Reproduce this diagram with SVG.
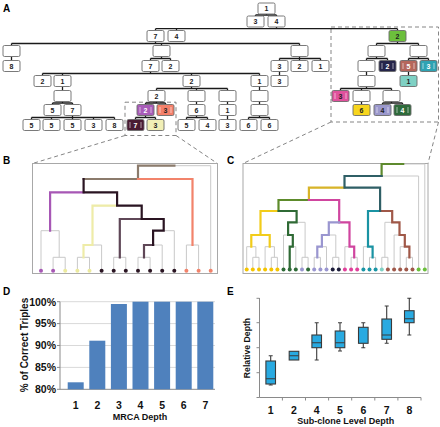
<svg xmlns="http://www.w3.org/2000/svg" width="440" height="427" viewBox="0 0 440 427">
<style>
.bx{fill:#fff;stroke:#6b6b6b;stroke-width:0.9}
.t{font-family:"Liberation Sans",Arial,sans-serif;font-weight:bold;font-size:7px;text-anchor:middle;fill:#222}
.tw{fill:#fff}
.bar{stroke:#fff;stroke-opacity:0.7;stroke-width:0.8;fill:none}
.cn{stroke:#1a1a1a;stroke-width:1.3;fill:none}
.dash{stroke:#858585;stroke-width:1;stroke-dasharray:4 3;fill:none}
.frame{stroke:#a8a8a8;stroke-width:1;fill:none}
.g{stroke:#c9c9c9;stroke-width:1;fill:none}
.hl{stroke-width:2.2;fill:none;stroke-linecap:square;stroke-linejoin:miter}
.lbl{font-family:"Liberation Sans",Arial,sans-serif;font-weight:bold;font-size:10px;fill:#000}
.tick{font-family:"Liberation Sans",Arial,sans-serif;font-weight:bold;font-size:10.5px;fill:#111}
.ttl{font-family:"Liberation Sans",Arial,sans-serif;font-weight:bold;font-size:9px;fill:#111;text-anchor:middle}
.ax{stroke:#8a8a8a;stroke-width:1;fill:none}
.grid{stroke:#d9d9d9;stroke-width:1;fill:none}
.dbar{fill:#4f81bd}
.bp{fill:#29aae1;stroke:#3a3a3a;stroke-width:1.1}
.wk{stroke:#3a3a3a;stroke-width:1.1;fill:none}
</style>

<!-- panel letters -->
<text class="lbl" x="3" y="12">A</text>
<text class="lbl" x="3" y="164">B</text>
<text class="lbl" x="227" y="164">C</text>
<text class="lbl" x="3" y="295">D</text>
<text class="lbl" x="227" y="295">E</text>

<!-- dashed zoom guides -->
<g id="guides">
<rect class="dash" x="125" y="102.2" width="51" height="33.3"/>
<rect class="dash" x="331" y="27" width="107.5" height="95"/>
<path class="dash" d="M125 135.5L32.5 163.5M176 135.5L217.5 163.5M331 122L243 163.5M438.5 122L428 163.5"/>
</g>

<!-- tree A connectors -->
<g id="connectors">
<path class="cn" d="M266.5 14V15M255.5 15H276.5M255.5 15V16M276.5 15V16
M276.5 27V28.7M155.5 28.7H397.5M155.5 28.7V30.5M176.5 28.7V30.5M397.5 28.7V30.5
M155.5 41.5V43.5M11.5 43.5H299.5M11.5 43.5V45.5M161.5 43.5V45.5M299.5 43.5V45.5
M397.5 41.5V43.5M376.5 43.5H418.5M376.5 43.5V45.5M418.5 43.5V45.5
M11.5 56.5V60.5
M161.5 56.5V58.5M150.5 58.5H170.5M150.5 58.5V60.5M170.5 58.5V60.5
M299.5 56.5V58.5M279.5 58.5H320.5M279.5 58.5V60.5M299.5 58.5V60.5M320.5 58.5V60.5
M376.5 56.5V58.5M366.5 58.5H387.5M366.5 58.5V60.5M387.5 58.5V60.5
M418.5 56.5V58.5M408.5 58.5H428.5M408.5 58.5V60.5M428.5 58.5V60.5
M150.5 71.5V73.5M42.5 73.5H259.5M42.5 73.5V75.5M62.5 73.5V75.5M191.5 73.5V75.5M259.5 73.5V75.5
M279.5 71.5V75.5M366.5 71.5V75.5M408.5 71.5V75.5
M62.5 86.5V90.5
M191.5 86.5V88.5M156.5 88.5H227.5M156.5 88.5V90.5M196.5 88.5V90.5M227.5 88.5V90.5
M259.5 86.5V90.5
M366.5 86.5V88.5M340.5 88.5H391.5M340.5 88.5V90.5M361.5 88.5V90.5M391.5 88.5V90.5
M62.5 101.5V103M52.5 103H72.5M52.5 103V104.5M72.5 103V104.5
M156.5 101.5V103M145.5 103H165.5M145.5 103V104.5M165.5 103V104.5
M196.5 101.5V104.5M227.5 101.5V104.5M259.5 101.5V104.5M361.5 101.5V104.5
M391.5 101.5V103M382.5 103H402.5M382.5 103V104.5M402.5 103V104.5
M72.5 115.5V117.5M31.5 117.5H114.5M31.5 117.5V119.5M51.5 117.5V119.5M72.5 117.5V119.5M93.5 117.5V119.5M114.5 117.5V119.5
M145.5 115.5V117.5M135.5 117.5H155.5M135.5 117.5V119.5M155.5 117.5V119.5
M196.5 115.5V117.5M186.5 117.5H207.5M186.5 117.5V119.5M207.5 117.5V119.5
M227.5 115.5V119.5
M259.5 115.5V117.5M248.5 117.5H269.5M248.5 117.5V119.5M269.5 117.5V119.5"/>
</g>

<!-- tree A nodes -->
<g id="a-root"><rect class="bx" x="258" y="3" width="17" height="11" rx="1.5"/><text class="t" x="266.5" y="11.2">1</text></g>
<g id="a-r1-3"><rect class="bx" x="247" y="16" width="17" height="11" rx="1.5"/><text class="t" x="255.5" y="24.2">3</text></g>
<g id="a-r1-4"><rect class="bx" x="268" y="16" width="17" height="11" rx="1.5"/><text class="t" x="276.5" y="24.2">4</text></g>
<g id="a-r2-7"><rect class="bx" x="147" y="30.5" width="17" height="11" rx="1.5"/><text class="t" x="155.5" y="38.7">7</text></g>
<g id="a-r2-4"><rect class="bx" x="168" y="30.5" width="17" height="11" rx="1.5"/><text class="t" x="176.5" y="38.7">4</text></g>
<g id="a-green-2"><rect class="bx" x="389" y="30.5" width="17" height="11" rx="1.5" style="fill:#6cbf3c"/><text class="t" x="397.5" y="38.7">2</text></g>
<g id="a-r3-e1"><rect class="bx" x="3" y="45.5" width="17" height="11" rx="1.5"/></g>
<g id="a-r3-e2"><rect class="bx" x="153" y="45.5" width="17" height="11" rx="1.5"/></g>
<g id="a-r3-e3"><rect class="bx" x="291" y="45.5" width="17" height="11" rx="1.5"/></g>
<g id="a-r3-e4"><rect class="bx" x="368" y="45.5" width="17" height="11" rx="1.5"/></g>
<g id="a-r3-e5"><rect class="bx" x="410" y="45.5" width="17" height="11" rx="1.5"/></g>
<g id="a-r4-8"><rect class="bx" x="3" y="60.5" width="17" height="11" rx="1.5"/><text class="t" x="11.5" y="68.7">8</text></g>
<g id="a-r4-7"><rect class="bx" x="142" y="60.5" width="17" height="11" rx="1.5"/><text class="t" x="150.5" y="68.7">7</text></g>
<g id="a-r4-2"><rect class="bx" x="162" y="60.5" width="17" height="11" rx="1.5"/><text class="t" x="170.5" y="68.7">2</text></g>
<g id="a-r4-3"><rect class="bx" x="271" y="60.5" width="17" height="11" rx="1.5"/><text class="t" x="279.5" y="68.7">3</text></g>
<g id="a-r4-2b"><rect class="bx" x="291" y="60.5" width="17" height="11" rx="1.5"/><text class="t" x="299.5" y="68.7">2</text></g>
<g id="a-r4-1"><rect class="bx" x="312" y="60.5" width="17" height="11" rx="1.5"/><text class="t" x="320.5" y="68.7">1</text></g>
<g id="a-r4-e6"><rect class="bx" x="358" y="60.5" width="17" height="11" rx="1.5"/></g>
<g id="a-navy-2"><rect class="bx" x="379" y="60.5" width="17" height="11" rx="1.5" style="fill:#25254a"/><path class="bar" d="M382 63v6M393 63v6"/><text class="t tw" x="387.5" y="68.7">2</text></g>
<g id="a-brown-5"><rect class="bx" x="400" y="60.5" width="17" height="11" rx="1.5" style="fill:#b5675c"/><path class="bar" d="M403 63v6M414 63v6"/><text class="t tw" x="408.5" y="68.7">5</text></g>
<g id="a-teal-3"><rect class="bx" x="420" y="60.5" width="17" height="11" rx="1.5" style="fill:#2fa3b3"/><path class="bar" d="M423 63v6M434 63v6"/><text class="t tw" x="428.5" y="68.7">3</text></g>
<g id="a-r5-2"><rect class="bx" x="34" y="75.5" width="17" height="11" rx="1.5"/><text class="t" x="42.5" y="83.7">2</text></g>
<g id="a-r5-1"><rect class="bx" x="54" y="75.5" width="17" height="11" rx="1.5"/><text class="t" x="62.5" y="83.7">1</text></g>
<g id="a-r5-2b"><rect class="bx" x="183" y="75.5" width="17" height="11" rx="1.5"/><text class="t" x="191.5" y="83.7">2</text></g>
<g id="a-r5-1b"><rect class="bx" x="251" y="75.5" width="17" height="11" rx="1.5"/><text class="t" x="259.5" y="83.7">1</text></g>
<g id="a-r5-3"><rect class="bx" x="271" y="75.5" width="17" height="11" rx="1.5"/><text class="t" x="279.5" y="83.7">3</text></g>
<g id="a-r5-e7"><rect class="bx" x="358" y="75.5" width="17" height="11" rx="1.5"/></g>
<g id="a-lteal-1"><rect class="bx" x="400" y="75.5" width="17" height="11" rx="1.5" style="fill:#7fd1c4"/><text class="t" x="408.5" y="83.7">1</text></g>
<g id="a-r6-e8"><rect class="bx" x="54" y="90.5" width="17" height="11" rx="1.5"/></g>
<g id="a-r6-2"><rect class="bx" x="148" y="90.5" width="17" height="11" rx="1.5"/><text class="t" x="156.5" y="98.7">2</text></g>
<g id="a-r6-e9"><rect class="bx" x="188" y="90.5" width="17" height="11" rx="1.5"/></g>
<g id="a-r6-e10"><rect class="bx" x="219" y="90.5" width="17" height="11" rx="1.5"/></g>
<g id="a-r6-e11"><rect class="bx" x="251" y="90.5" width="17" height="11" rx="1.5"/></g>
<g id="a-pink-3"><rect class="bx" x="332" y="90.5" width="17" height="11" rx="1.5" style="fill:#e0519c"/><path class="bar" d="M335 93v6M346 93v6"/><text class="t" x="340.5" y="98.7">3</text></g>
<g id="a-r6-e12"><rect class="bx" x="353" y="90.5" width="17" height="11" rx="1.5"/></g>
<g id="a-r6-e13"><rect class="bx" x="383" y="90.5" width="17" height="11" rx="1.5"/></g>
<g id="a-r7-5"><rect class="bx" x="44" y="104.5" width="17" height="11" rx="1.5"/><text class="t" x="52.5" y="112.7">5</text></g>
<g id="a-r7-7"><rect class="bx" x="64" y="104.5" width="17" height="11" rx="1.5"/><text class="t" x="72.5" y="112.7">7</text></g>
<g id="a-purple-2"><rect class="bx" x="137" y="104.5" width="17" height="11" rx="1.5" style="fill:#a85cb8"/><path class="bar" d="M140 107v6M151 107v6"/><text class="t tw" x="145.5" y="112.7">2</text></g>
<g id="a-salmon-3"><rect class="bx" x="157" y="104.5" width="17" height="11" rx="1.5" style="fill:#f4806a"/><path class="bar" d="M160 107v6M171 107v6"/><text class="t" x="165.5" y="112.7">3</text></g>
<g id="a-r7-6"><rect class="bx" x="188" y="104.5" width="17" height="11" rx="1.5"/><text class="t" x="196.5" y="112.7">6</text></g>
<g id="a-r7-1"><rect class="bx" x="219" y="104.5" width="17" height="11" rx="1.5"/><text class="t" x="227.5" y="112.7">1</text></g>
<g id="a-r7-e14"><rect class="bx" x="251" y="104.5" width="17" height="11" rx="1.5"/></g>
<g id="a-yellow-6"><rect class="bx" x="353" y="104.5" width="17" height="11" rx="1.5" style="fill:#f7d51d"/><text class="t" x="361.5" y="112.7">6</text></g>
<g id="a-lav-4"><rect class="bx" x="374" y="104.5" width="17" height="11" rx="1.5" style="fill:#9b98cc"/><path class="bar" d="M377 107v6M388 107v6"/><text class="t" x="382.5" y="112.7">4</text></g>
<g id="a-dkgreen-4"><rect class="bx" x="394" y="104.5" width="17" height="11" rx="1.5" style="fill:#2e6b3b"/><path class="bar" d="M397 107v6M408 107v6"/><text class="t tw" x="402.5" y="112.7">4</text></g>
<g id="a-r8-5a"><rect class="bx" x="23" y="119.5" width="17" height="11" rx="1.5"/><text class="t" x="31.5" y="127.7">5</text></g>
<g id="a-r8-5b"><rect class="bx" x="43" y="119.5" width="17" height="11" rx="1.5"/><text class="t" x="51.5" y="127.7">5</text></g>
<g id="a-r8-5c"><rect class="bx" x="64" y="119.5" width="17" height="11" rx="1.5"/><text class="t" x="72.5" y="127.7">5</text></g>
<g id="a-r8-3"><rect class="bx" x="85" y="119.5" width="17" height="11" rx="1.5"/><text class="t" x="93.5" y="127.7">3</text></g>
<g id="a-r8-8"><rect class="bx" x="106" y="119.5" width="17" height="11" rx="1.5"/><text class="t" x="114.5" y="127.7">8</text></g>
<g id="a-dark-7"><rect class="bx" x="127" y="119.5" width="17" height="11" rx="1.5" style="fill:#4a1b33"/><path class="bar" d="M130 122v6M141 122v6"/><text class="t tw" x="135.5" y="127.7">7</text></g>
<g id="a-lyellow-3"><rect class="bx" x="147" y="119.5" width="17" height="11" rx="1.5" style="fill:#f1efb6"/><text class="t" x="155.5" y="127.7">3</text></g>
<g id="a-r8-5d"><rect class="bx" x="178" y="119.5" width="17" height="11" rx="1.5"/><text class="t" x="186.5" y="127.7">5</text></g>
<g id="a-r8-4"><rect class="bx" x="199" y="119.5" width="17" height="11" rx="1.5"/><text class="t" x="207.5" y="127.7">4</text></g>
<g id="a-r8-3b"><rect class="bx" x="219" y="119.5" width="17" height="11" rx="1.5"/><text class="t" x="227.5" y="127.7">3</text></g>
<g id="a-r8-6a"><rect class="bx" x="240" y="119.5" width="17" height="11" rx="1.5"/><text class="t" x="248.5" y="127.7">6</text></g>
<g id="a-r8-6b"><rect class="bx" x="261" y="119.5" width="17" height="11" rx="1.5"/><text class="t" x="269.5" y="127.7">6</text></g>

<!-- panel B dendrogram -->
<g id="panel-b">
<rect class="frame" x="32.5" y="163.5" width="185" height="110"/>
<path class="g" d="M53.1 257.3H65.2M53.1 257.3V270.7M65.2 257.3V270.7
M41 230.7H59.2M41 230.7V270.7M59.2 230.7V257.3
M77.4 257.3H89.5M77.4 257.3V270.7M89.5 257.3V270.7
M83.5 245H101.6M83.5 245V257.3M101.6 245V270.7
M113.7 257.3H125.8M113.7 257.3V270.7M125.8 257.3V270.7
M138 257.3H150.1M138 257.3V270.7M150.1 257.3V270.7
M144 245H162.2M144 245V257.3M162.2 245V270.7
M153.1 230.7H174.3M153.1 230.7V245M174.3 230.7V270.7
M119.8 219H163.7M119.8 219V257.3M163.7 219V230.7
M92.5 205.7H141.7M92.5 205.7V245M141.7 205.7V219
M50.1 192.3H117.1M50.1 192.3V230.7M117.1 192.3V205.7
M186.4 245H198.6M186.4 245V270.7M198.6 245V270.7
M83.6 179H192.5M83.6 179V192.3M192.5 179V245
M138 165.7H210.7M138 165.7V179M210.7 165.7V270.7"/>
<path class="hl" stroke="#8b7b6c" stroke-width="2.6" d="M174.4 165.7H138V179H83.6"/>
<path class="hl" stroke="#f2836b" d="M138 179H192.5V245"/>
<path class="hl" stroke="#a757b5" d="M83.6 192.3H50.1V230.7"/>
<path class="hl" stroke="#eeeca8" d="M117.1 205.7H92.5V245H83.5V257.3"/>
<path class="hl" stroke="#5f4757" d="M141.7 219H119.8V257.3M153.1 245H144V257.3"/>
<path class="hl" stroke="#2a1422" stroke-width="2.6" d="M83.6 179V192.3H117.1V205.7H141.7V219H163.7V230.7H153.1V245"/>
<g id="b-leaves">
<circle cx="41" cy="270.7" r="2" fill="#a757b5"/><circle cx="53.1" cy="270.7" r="2" fill="#a757b5"/>
<circle cx="65.2" cy="270.7" r="2" fill="#ecea9e"/><circle cx="77.4" cy="270.7" r="2" fill="#ecea9e"/><circle cx="89.5" cy="270.7" r="2" fill="#ecea9e"/>
<circle cx="101.6" cy="270.7" r="2" fill="#2a1422"/><circle cx="113.7" cy="270.7" r="2" fill="#2a1422"/><circle cx="125.8" cy="270.7" r="2" fill="#2a1422"/><circle cx="138" cy="270.7" r="2" fill="#2a1422"/><circle cx="150.1" cy="270.7" r="2" fill="#2a1422"/><circle cx="162.2" cy="270.7" r="2" fill="#2a1422"/><circle cx="174.3" cy="270.7" r="2" fill="#2a1422"/>
<circle cx="186.4" cy="270.7" r="2" fill="#f2836b"/><circle cx="198.6" cy="270.7" r="2" fill="#f2836b"/><circle cx="210.7" cy="270.7" r="2" fill="#f2836b"/>
</g>
</g>

<!-- panel C dendrogram -->
<g id="panel-c">
<rect class="frame" x="243" y="163.5" width="185" height="110"/>
<path class="g" d="M252.8 257.3H259M252.8 257.3V269.5M259 257.3V269.5
M246.7 246.7H255.9M246.7 246.7V269.5M255.9 246.7V257.3
M271.3 257.3H277.4M271.3 257.3V269.5M277.4 257.3V269.5
M265.1 246.7H274.4M265.1 246.7V269.5M274.4 246.7V257.3
M251.3 235H269.7M251.3 235V246.7M269.7 235V246.7
M289.7 246.7H295.8M289.7 246.7V269.5M295.8 246.7V269.5
M283.5 235H292.8M283.5 235V269.5M292.8 235V246.7
M302 257.3H308.1M302 257.3V269.5M308.1 257.3V269.5
M288.1 222.3H305.1M288.1 222.3V235M305.1 222.3V257.3
M260.5 211H296.6M260.5 211V235M296.6 211V222.3
M314.2 257.3H320.4M314.2 257.3V269.5M320.4 257.3V269.5
M317.3 246.7H326.5M317.3 246.7V257.3M326.5 246.7V269.5
M332.7 257.3H338.8M332.7 257.3V269.5M338.8 257.3V269.5
M321.9 235H335.8M321.9 235V246.7M335.8 235V257.3
M351.1 257.3H357.2M351.1 257.3V269.5M357.2 257.3V269.5
M344.9 246.7H354.2M344.9 246.7V269.5M354.2 246.7V257.3
M328.8 222.3H349.5M328.8 222.3V235M349.5 222.3V246.7
M278.5 200H339.2M278.5 200V211M339.2 200V222.3
M369.5 257.3H375.6M369.5 257.3V269.5M375.6 257.3V269.5
M363.4 246.7H372.6M363.4 246.7V269.5M372.6 246.7V257.3
M406.3 257.3H412.5M406.3 257.3V269.5M412.5 257.3V269.5
M400.2 246.7H409.4M400.2 246.7V269.5M409.4 246.7V257.3
M394.1 235H404.8M394.1 235V269.5M404.8 235V246.7
M381.8 257.3H387.9M381.8 257.3V269.5M387.9 257.3V269.5
M384.9 222.3H399.5M384.9 222.3V257.3M399.5 222.3V235
M368 211H392.2M368 211V246.7M392.2 211V222.3
M308.9 187.7H380.1M308.9 187.7V200M380.1 187.7V211
M344.5 176H418.6M344.5 176V187.7M418.6 176V269.5
M381.6 164H424.8M381.6 164V176M424.8 164V269.5"/>
<path class="hl" stroke="#5e8a2e" d="M403.2 164H381.6V176"/>
<path class="hl" stroke="#d8b428" d="M344.5 187.7H308.9V200"/>
<path class="hl" stroke="#5d8b2b" d="M308.9 200H278.5V211"/>
<path class="hl" stroke="#d0459f" d="M308.9 200H339.2V222.3H349.5V246.7H354.2V257.3"/>
<path class="hl" stroke="#f2cc1a" d="M278.5 211H260.5V235M251.3 246.7V235H269.7V246.7"/>
<path class="hl" stroke="#2f6a35" d="M278.5 211H296.6V222.3H288.1V235H292.8V246.7H289.7V269.5"/>
<path class="hl" stroke="#9a96d0" d="M339.2 222.3H328.8V235H321.9V246.7H317.3V257.3"/>
<path class="hl" stroke="#1a93a3" d="M380.1 211H368V246.7H372.6V257.3"/>
<path class="hl" stroke="#a05848" d="M380.1 211H392.2V222.3H399.5V235H404.8V246.7H409.4V257.3"/>
<path class="hl" stroke="#2f5f66" d="M381.6 176H344.5V187.7H380.1V211"/>
<g id="c-leaves">
<circle cx="246.7" cy="269.5" r="2" fill="#f5c400"/><circle cx="252.8" cy="269.5" r="2" fill="#f5c400"/><circle cx="259" cy="269.5" r="2" fill="#f5c400"/><circle cx="265.1" cy="269.5" r="2" fill="#f5c400"/><circle cx="271.3" cy="269.5" r="2" fill="#f5c400"/><circle cx="277.4" cy="269.5" r="2" fill="#f5c400"/>
<circle cx="283.5" cy="269.5" r="2" fill="#2e6b36"/><circle cx="289.7" cy="269.5" r="2" fill="#2e6b36"/><circle cx="295.8" cy="269.5" r="2" fill="#2e6b36"/>
<circle cx="302" cy="269.5" r="2" fill="#9a96d0"/><circle cx="308.1" cy="269.5" r="2" fill="#2e6b36"/>
<circle cx="314.2" cy="269.5" r="2" fill="#9a96d0"/><circle cx="320.4" cy="269.5" r="2" fill="#9a96d0"/><circle cx="326.5" cy="269.5" r="2" fill="#9a96d0"/>
<circle cx="332.7" cy="269.5" r="2" fill="#1c1c3a"/><circle cx="338.8" cy="269.5" r="2" fill="#1c1c3a"/>
<circle cx="344.9" cy="269.5" r="2" fill="#e0409a"/><circle cx="351.1" cy="269.5" r="2" fill="#e0409a"/><circle cx="357.2" cy="269.5" r="2" fill="#e0409a"/>
<circle cx="363.4" cy="269.5" r="2" fill="#1a96a6"/><circle cx="369.5" cy="269.5" r="2" fill="#1a96a6"/><circle cx="375.6" cy="269.5" r="2" fill="#1a96a6"/>
<circle cx="381.8" cy="269.5" r="2" fill="#7fd1c4"/>
<circle cx="387.9" cy="269.5" r="2" fill="#a0584a"/><circle cx="394.1" cy="269.5" r="2" fill="#a0584a"/><circle cx="400.2" cy="269.5" r="2" fill="#a0584a"/><circle cx="406.3" cy="269.5" r="2" fill="#a0584a"/><circle cx="412.5" cy="269.5" r="2" fill="#a0584a"/>
<circle cx="418.6" cy="269.5" r="2" fill="#6abf3a"/><circle cx="424.8" cy="269.5" r="2" fill="#6abf3a"/>
</g>
</g>

<!-- panel D bar chart -->
<g id="panel-d">
<path class="grid" d="M60 301.7H215M60 323.6H215M60 345.5H215M60 367.4H215"/>
<path class="ax" d="M60 301.7V389.3H215M57 301.7H60M57 323.6H60M57 345.5H60M57 367.4H60M57 389.3H60"/>
<rect class="dbar" x="67.7" y="382.3" width="16" height="7"/>
<rect class="dbar" x="89.3" y="340.7" width="16" height="48.6"/>
<rect class="dbar" x="110.9" y="304" width="16" height="85.3"/>
<rect class="dbar" x="132.5" y="301.7" width="16" height="87.6"/>
<rect class="dbar" x="154.1" y="301.7" width="16" height="87.6"/>
<rect class="dbar" x="175.7" y="301.7" width="16" height="87.6"/>
<rect class="dbar" x="197.3" y="301.7" width="16" height="87.6"/>
<g class="tick" text-anchor="end">
<text x="56" y="305.5">100%</text><text x="56" y="327.4">95%</text><text x="56" y="349.3">90%</text><text x="56" y="371.2">85%</text><text x="56" y="393.1">80%</text>
</g>
<g class="tick" text-anchor="middle">
<text x="75.7" y="408.8">1</text><text x="97.3" y="408.8">2</text><text x="118.9" y="408.8">3</text><text x="140.5" y="408.8">4</text><text x="162.1" y="408.8">5</text><text x="183.7" y="408.8">6</text><text x="205.3" y="408.8">7</text>
</g>
<text class="ttl" x="140" y="420">MRCA Depth</text>
<text class="ttl" style="font-size:10px" transform="translate(27.5 345) rotate(-90)" x="0" y="0">% of Correct Triples</text>
</g>

<!-- panel E box plot -->
<g id="panel-e">
<path class="ax" d="M259.5 298V397.5H421M256.5 298.3H259.5M256.5 322.7H259.5M256.5 347.7H259.5M256.5 372.7H259.5M256.5 397.5H259.5
M282.4 397.5V400.5M305.5 397.5V400.5M328.6 397.5V400.5M351.7 397.5V400.5M374.8 397.5V400.5M397.9 397.5V400.5M421 397.5V400.5"/>
<path class="wk" d="M270.7 355.7V361M270.7 384V385M268.7 355.7H272.7M268.7 385H272.7
M316.7 322.7V335M316.7 347.7V360M314.7 322.7H318.7M314.7 360H318.7
M340 322.7V331M340 347.7V351M338 322.7H342M338 351H342
M363.3 322.7V327.3M363.3 343.3V347.7M361.3 322.7H365.3M361.3 347.7H365.3
M386.7 306V319M386.7 339.3V343.3M384.7 306H388.7M384.7 343.3H388.7
M409.3 298.3V310.7M409.3 322.7V335M407.3 298.3H411.3M407.3 335H411.3"/>
<rect class="bp" x="265.9" y="361" width="9.6" height="23"/>
<rect class="bp" x="289.2" y="351.3" width="9.6" height="8.7"/>
<rect class="bp" x="311.9" y="335" width="9.6" height="12.7"/>
<rect class="bp" x="335.2" y="331" width="9.6" height="16.7"/>
<rect class="bp" x="358.5" y="327.3" width="9.6" height="16"/>
<rect class="bp" x="381.9" y="319" width="9.6" height="20.3"/>
<rect class="bp" x="404.5" y="310.7" width="9.6" height="12"/>
<path class="wk" stroke-width="1.5" d="M265.9 378.7H275.5M289.2 355.7H298.8M311.9 342.7H321.5M335.2 342.7H344.8M381.9 335H391.5M404.5 318.7H414.1"/>
<g class="tick" text-anchor="middle">
<text x="270.7" y="414">1</text><text x="294" y="414">2</text><text x="316.7" y="414">4</text><text x="340" y="414">5</text><text x="363.3" y="414">6</text><text x="386.7" y="414">7</text><text x="409.3" y="414">8</text>
</g>
<text class="ttl" x="345.8" y="424">Sub-clone Level Depth</text>
<text class="ttl" style="font-size:8.7px" transform="translate(250 348) rotate(-90)" x="0" y="0">Relative Depth</text>
</g>
</svg>
